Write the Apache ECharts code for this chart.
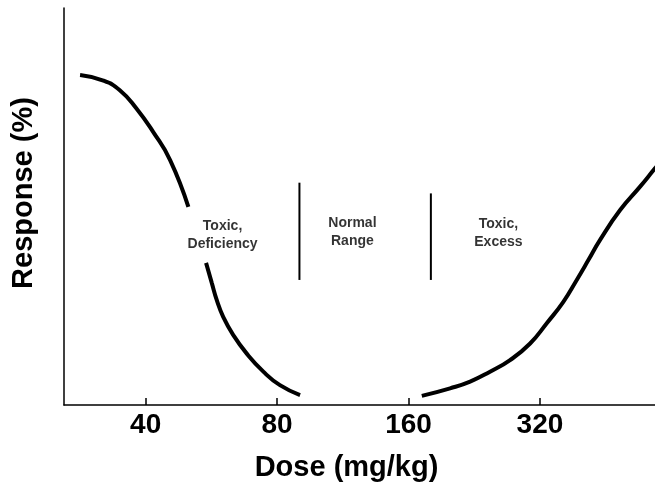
<!DOCTYPE html>
<html>
<head>
<meta charset="utf-8">
<script src="https://cdn.jsdelivr.net/npm/echarts@6/dist/echarts.min.js"></script>
<style>
  html, body { margin: 0; padding: 0; background: #fff; }
  #main { width: 655px; height: 489px; }
</style>
</head>
<body>
<div id="main"></div>
<script>
// dose in mg/kg, response in %
// null marks the break in the curve where the zone text sits
var deficiencyDose = [28.3, 32.0, 34.9, 38.1, 41.6, 45.5, 50.1, null, 55.0, 56.7, 58.2, 60.2, 63.5, 68.1, 74.4, 81.2, 90.3];
var deficiencyResp = [83.1, 81.7, 79.3, 74.7, 68.8, 61.7, 49.9, null, 35.8, 30.7, 26.4, 22.2, 17.6, 13.0, 8.4, 5.0, 2.5];

var excessDose = [171.6, 199.2, 221.4, 245.9, 273.3, 303.8, 331.7, 362.0, 388.5, 413.1, 439.4, 488.4, 542.6, 587, 604];
var excessResp = [2.3, 4.2, 5.9, 8.4, 11.3, 15.5, 20.6, 26.0, 31.5, 36.5, 41.6, 49.1, 55.0, 59.6, 61.2];

var tickDoses = [40, 80, 160, 320];

var dividerDose = [90, 180];
var dividerLow = [31.5, 31.5];
var dividerHigh = [56, 53.3];

var zoneNames = ['Toxic,\nDeficiency', 'Normal\nRange', 'Toxic,\nExcess'];
var zoneDose = [60, 119, 257];
var zoneResp = [42.7, 43.5, 43.4];

var doseMin = 26;
var doseMax = 587;

function pos(d) {
  return d == null ? null : Math.log2(d);
}

function pairs(xs, ys) {
  return xs.map(function (d, i) {
    if (d == null) return [null, null];
    return [pos(d), ys[i]];
  });
}

var font = "'Liberation Sans', Arial, Helvetica, sans-serif";
var curveStyle = { color: '#000', width: 4 };

var chartDom = document.getElementById('main');
var myChart = echarts.init(chartDom);
var option;

var series = [
  {
    name: 'deficiency',
    type: 'line',
    data: pairs(deficiencyDose, deficiencyResp),
    smooth: 0.5,
    connectNulls: false,
    showSymbol: false,
    lineStyle: curveStyle,
    silent: true
  },
  {
    name: 'excess',
    type: 'line',
    data: pairs(excessDose, excessResp),
    smooth: 0.5,
    showSymbol: false,
    clip: true,
    lineStyle: curveStyle,
    silent: true
  },
  {
    name: 'zones',
    type: 'scatter',
    symbolSize: 0,
    silent: true,
    data: zoneNames.map(function (n, i) {
      return { name: n, value: [pos(zoneDose[i]), zoneResp[i]] };
    }),
    label: {
      show: true,
      position: 'inside',
      formatter: function (p) { return p.name; },
      color: '#000',
      fontFamily: font,
      fontWeight: 'bold',
      fontSize: 14,
      lineHeight: 18,
      align: 'center'
    }
  }
];

dividerDose.forEach(function (d, i) {
  series.push({
    name: 'divider' + i,
    type: 'line',
    data: [[pos(d), dividerLow[i]], [pos(d), dividerHigh[i]]],
    showSymbol: false,
    silent: true,
    lineStyle: { color: '#000', width: 2 }
  });
});

option = {
  animation: false,
  backgroundColor: '#fff',
  grid: {
    left: 64,
    right: 0,
    top: 8,
    bottom: 84,
    containLabel: false,
    outerBoundsMode: 'none'
  },
  xAxis: {
    type: 'value',
    min: pos(doseMin),
    max: pos(doseMax),
    name: 'Dose (mg/kg)',
    nameLocation: 'middle',
    nameGap: 48,
    nameTextStyle: {
      color: '#000',
      fontFamily: font,
      fontWeight: 'bold',
      fontSize: 29,
      padding: [0, 26, 0, 0]
    },
    axisLine: { lineStyle: { color: '#000', width: 1.5 } },
    axisTick: {
      show: true,
      inside: true,
      length: 7,
      customValues: tickDoses.map(pos),
      lineStyle: { color: '#000', width: 1.5 }
    },
    axisLabel: {
      customValues: tickDoses.map(pos),
      margin: 6,
      color: '#000',
      fontFamily: font,
      fontWeight: 'bold',
      fontSize: 28,
      formatter: function (v) { return String(Math.round(Math.pow(2, v))); }
    },
    splitLine: { show: false }
  },
  yAxis: {
    type: 'value',
    min: 0,
    max: 100,
    name: 'Response (%)',
    nameLocation: 'middle',
    nameGap: 26,
    nameTextStyle: {
      color: '#000',
      fontFamily: font,
      fontWeight: 'bold',
      fontSize: 29,
      padding: [0, 0, 0, 27]
    },
    axisLine: { show: true, lineStyle: { color: '#000', width: 1.5 } },
    axisTick: { show: false },
    axisLabel: { show: false },
    splitLine: { show: false }
  },
  series: series
};

option && myChart.setOption(option);
</script>
</body>
</html>
